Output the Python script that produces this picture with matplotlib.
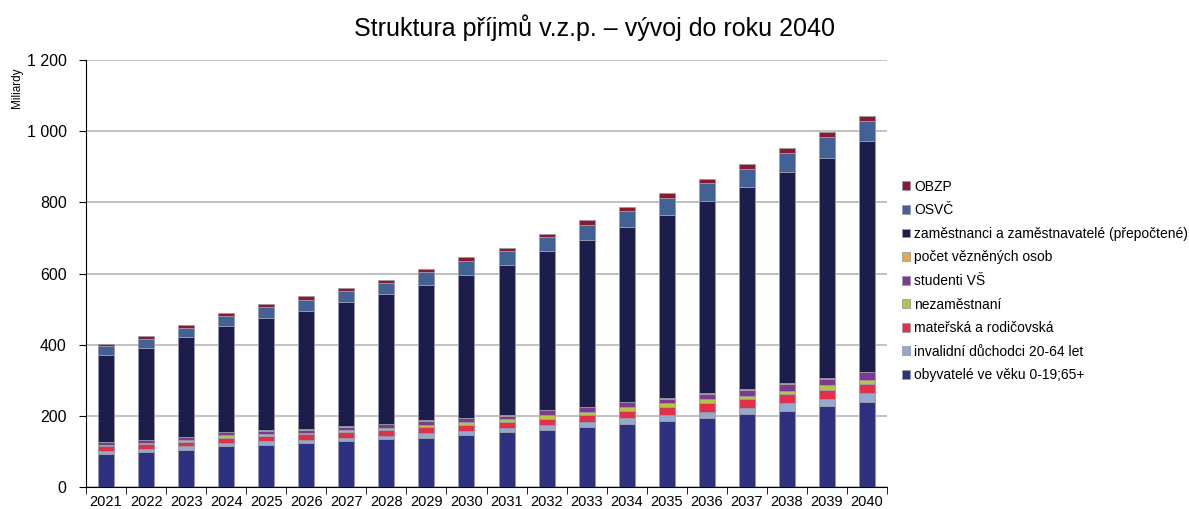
import matplotlib.pyplot as plt
from matplotlib.ticker import FuncFormatter, FixedLocator
import numpy as np

plt.rcParams['font.family'] = ['Liberation Sans', 'DejaVu Sans']

years = [str(y) for y in range(2021, 2041)]

# Miliardy Kč (bottom to top)
obyvatele = [92, 98, 105, 115, 118, 123, 129, 134, 139, 146, 154, 160, 168, 178, 186, 194, 204, 214, 228, 239]
invalidni = [10, 10, 9, 10, 11, 10, 10, 10, 12, 12, 13, 14, 15, 16, 17, 18, 18, 22, 20, 25]
materska = [12, 12, 13, 14, 14, 15, 15, 17, 17, 17, 17, 18, 18, 20, 21, 24, 24, 24, 26, 25]
nezamestnani = [4, 4, 4, 6, 5, 5, 7, 5, 5, 8, 8, 10, 10, 10, 11, 10, 11, 11, 12, 13]
studenti = [8, 8, 9, 9, 9, 8, 9, 11, 13, 11, 7, 13, 14, 14, 13, 16, 16, 19, 17, 20]
vezni = [1, 1, 1, 1, 2, 1, 1, 1, 1, 1, 2, 1, 1, 1, 3, 1, 2, 1, 3, 2]
zamestnanci = [244, 259, 280, 298, 317, 334, 348, 363, 382, 402, 422, 446, 468, 491, 514, 541, 569, 593, 619, 647]
osvc = [24, 25, 27, 28, 30, 30, 32, 33, 35, 37, 39, 40, 42, 45, 48, 49, 51, 54, 58, 57]
obzp = [6, 6, 7, 7, 8, 10, 8, 9, 9, 11, 11, 10, 13, 11, 13, 13, 13, 14, 14, 16]

series = [
    ("obyvatelé ve věku 0-19;65+", obyvatele, "#2E3180"),
    ("invalidní důchodci 20-64 let", invalidni, "#95A9CF"),
    ("mateřská a rodičovská", materska, "#E0304A"),
    ("nezaměstnaní", nezamestnani, "#B5C543"),
    ("studenti VŠ", studenti, "#7E3B8E"),
    ("počet vězněných osob", vezni, "#E8A83A"),
    ("zaměstnanci a zaměstnavatelé (přepočtené)", zamestnanci, "#1C1D4B"),
    ("OSVČ", osvc, "#426295"),
    ("OBZP", obzp, "#8B1A2E"),
]

fig = plt.figure(figsize=(11.89, 5.09), dpi=100)
ax = fig.add_axes([86 / 1189, 1 - 487 / 509, 801 / 1189, 427 / 509])

x = np.arange(len(years))
bottom = np.zeros(len(years))
for label, vals, color in series:
    ax.bar(x, vals, 0.4, bottom=bottom, color=color, label=label,
           edgecolor="#9A9AAA", linewidth=0.6, zorder=3)
    bottom += np.array(vals)

ax.set_xlim(-0.5, len(years) - 0.5)
ax.set_ylim(0, 1200)
ax.set_yticks(range(0, 1201, 200))
ax.yaxis.set_major_formatter(FuncFormatter(lambda v, p: f"{int(v):,}".replace(",", " ")))
ax.grid(axis="y", color="#B8B8B8", linewidth=1.2, zorder=0)

ax.set_xticks(x)
ax.set_xticklabels(years)
ax.xaxis.set_minor_locator(FixedLocator(np.arange(-0.5, len(years), 1)))
ax.tick_params(axis="x", which="major", length=0, labelsize=10.5, pad=6)
ax.tick_params(axis="x", which="minor", length=5, direction="out", color="black")
ax.tick_params(axis="y", length=5, direction="out", labelsize=11.5, pad=9)

for s in ["top", "right"]:
    ax.spines[s].set_visible(False)
ax.spines["left"].set_color("black")
ax.spines["bottom"].set_color("black")

fig.text(595 / 1189, 1 - 28 / 509, "Struktura příjmů v.z.p. – vývoj do roku 2040",
         ha="center", va="center", fontsize=18)
fig.text(17 / 1189, 1 - 88 / 509, "Miliardy", rotation=90, ha="center", va="center",
         fontsize=8.5)

handles, labels = ax.get_legend_handles_labels()
fig.legend(handles[::-1], labels[::-1], loc="center left",
           bbox_to_anchor=(902 / 1189, 1 - 281 / 509), frameon=False,
           fontsize=10, handlelength=0.6, handleheight=0.6, handletextpad=0.3,
           labelspacing=0.69, borderaxespad=0, borderpad=0)

fig.savefig("out.png", dpi=100)
